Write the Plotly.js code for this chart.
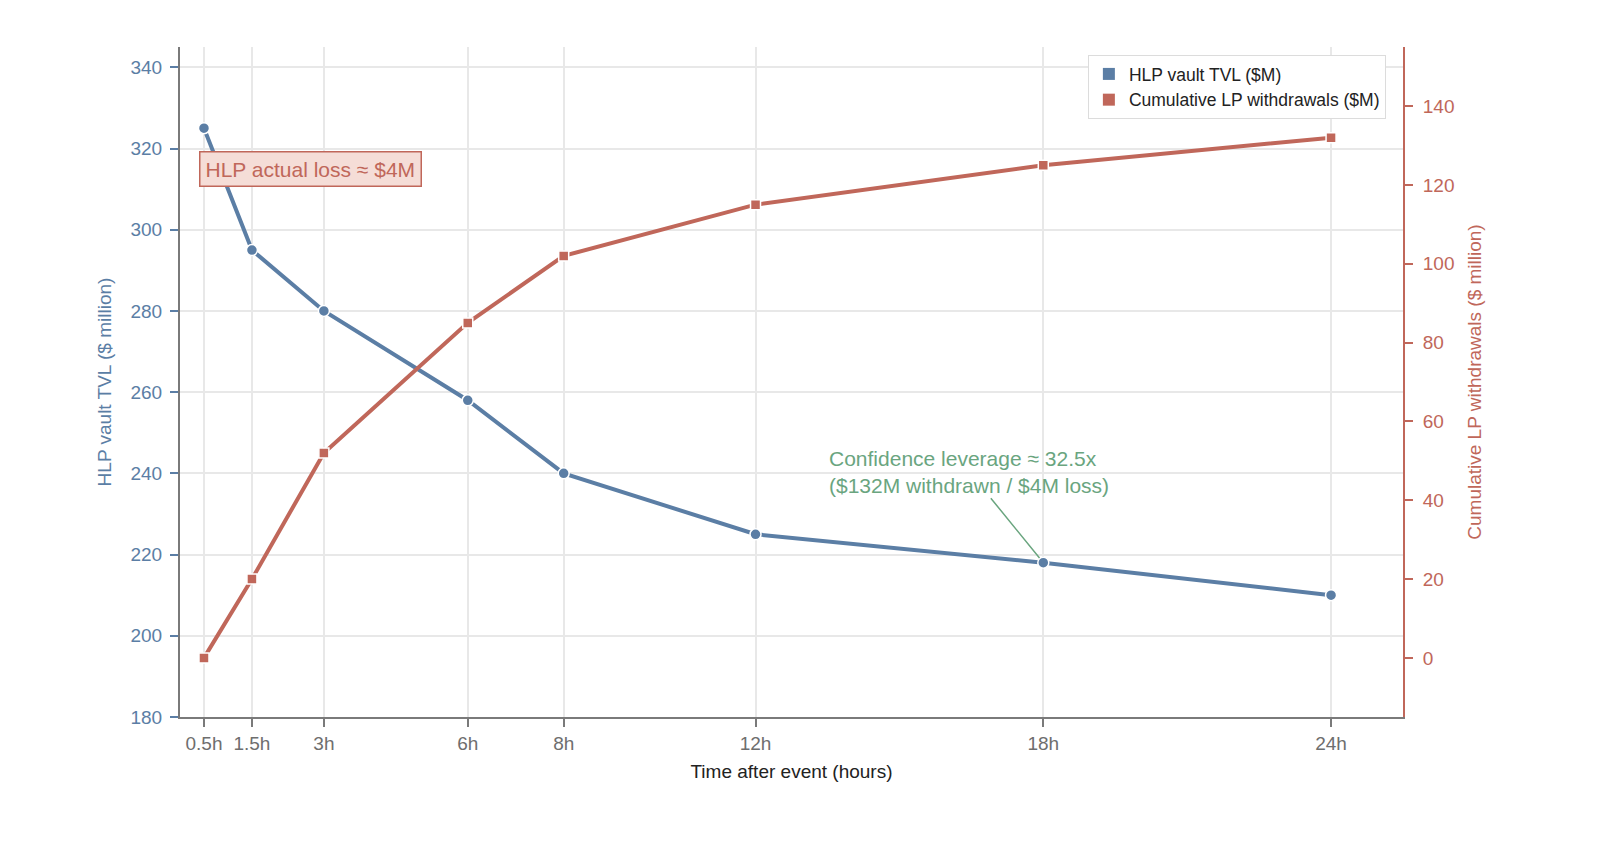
<!DOCTYPE html>
<html>
<head>
<meta charset="utf-8">
<script src="https://cdn.plot.ly/plotly-3.0.1.min.js"></script>
<style>
  html, body { margin: 0; padding: 0; background: #fff; }
  #chart { width: 1600px; height: 856px; }
</style>
</head>
<body>
<div id="chart"></div>
<script>
// hours after the event
const hours = [0.5, 1.5, 3, 6, 8, 12, 18, 24];
const hourLabels = ['0.5h', '1.5h', '3h', '6h', '8h', '12h', '18h', '24h'];
// HLP vault TVL, $M
const tvl = [325, 295, 280, 258, 240, 225, 218, 210];
// cumulative LP withdrawals, $M
const withdrawals = [0, 20, 52, 85, 102, 115, 125, 132];

const BLUE = '#5b7ea5';
const RED = '#c0675a';
const GREEN = '#6aa57f';
const FONT = '"Liberation Sans", Arial, sans-serif';

const traces = [
    {
        x: hours, y: tvl, type: 'scatter', mode: 'lines+markers',
        name: 'HLP vault TVL ($M)', showlegend: false,
        line: {color: BLUE, width: 4},
        marker: {symbol: 'circle', size: 11, color: BLUE, line: {color: '#fff', width: 1.5}}
    },
    {
        x: hours, y: withdrawals, type: 'scatter', mode: 'lines+markers', yaxis: 'y2',
        name: 'Cumulative LP withdrawals ($M)', showlegend: false,
        line: {color: RED, width: 4},
        marker: {symbol: 'square', size: 10, color: RED, line: {color: '#fff', width: 1.5}}
    },
    // legend swatches only
    {x: [null], y: [null], type: 'bar', name: 'HLP vault TVL ($M)', marker: {color: BLUE}},
    {x: [null], y: [null], type: 'bar', name: 'Cumulative LP withdrawals ($M)', marker: {color: RED}}
];

const layout = {
    width: 1600, height: 856,
    margin: {l: 180, r: 197, t: 47, b: 139},
    paper_bgcolor: '#fff', plot_bgcolor: '#fff',
    font: {family: FONT, size: 19, color: '#333'},
    showlegend: true,
    legend: {
        x: 0.986, y: 0.988, xanchor: 'right', yanchor: 'top',
        bgcolor: '#fff', bordercolor: '#dcdcdc', borderwidth: 1,
        font: {size: 17.5, color: '#222'}, tracegroupgap: 2
    },
    xaxis: {
        range: [0, 25.5],
        tickvals: hours, ticktext: hourLabels,
        showgrid: true, gridcolor: '#e8e8e8', gridwidth: 1.5,
        zeroline: false,
        showline: true, linecolor: '#7a7a7a', linewidth: 2,
        ticks: 'outside', ticklen: 8, tickwidth: 2, tickcolor: '#7a7a7a',
        tickfont: {size: 19, color: '#6e6e6e'},
        title: {text: 'Time after event (hours)', font: {size: 19, color: '#222'}, standoff: 12}
    },
    yaxis: {
        range: [180, 345],
        tickvals: [180, 200, 220, 240, 260, 280, 300, 320, 340],
        showgrid: true, gridcolor: '#e8e8e8', gridwidth: 1.5,
        zeroline: false,
        showline: true, linecolor: '#7a7a7a', linewidth: 2,
        ticks: 'outside', ticklen: 8, tickwidth: 2, tickcolor: BLUE,
        ticklabelstandoff: 4,
        tickfont: {size: 19, color: BLUE},
        title: {text: 'HLP vault TVL ($ million)', font: {size: 19, color: BLUE}, standoff: 14}
    },
    yaxis2: {
        overlaying: 'y', side: 'right',
        range: [-15, 155],
        tickvals: [0, 20, 40, 60, 80, 100, 120, 140],
        showgrid: false, zeroline: false,
        showline: true, linecolor: RED, linewidth: 2,
        ticks: 'outside', ticklen: 8, tickwidth: 2, tickcolor: RED,
        ticklabelstandoff: 6,
        tickfont: {size: 19, color: RED},
        title: {text: 'Cumulative LP withdrawals ($ million)', font: {size: 19, color: RED}, standoff: 14}
    },
    annotations: [
        {
            x: 2.73, y: 315, xref: 'x', yref: 'y',
            text: 'HLP actual loss ≈ $4M', showarrow: false,
            font: {size: 21, color: RED},
            bgcolor: '#f5ddd7', bordercolor: RED, borderwidth: 1.5, borderpad: 5
        },
        {
            x: 18, y: 218, xref: 'x', yref: 'y',
            text: 'Confidence leverage ≈ 32.5x<br>($132M withdrawn / $4M loss)',
            align: 'left', font: {size: 21, color: GREEN},
            showarrow: true, arrowhead: 0, arrowwidth: 1.5, arrowcolor: GREEN,
            ax: -74, ay: -91, standoff: 6
        }
    ]
};

Plotly.newPlot('chart', traces, layout, {displayModeBar: false, responsive: false});
</script>
</body>
</html>
